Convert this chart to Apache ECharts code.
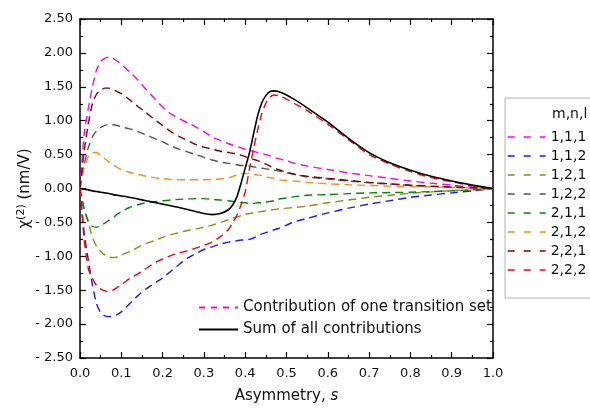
<!DOCTYPE html>
<html>
<head>
<meta charset="utf-8">
<script src="https://cdn.jsdelivr.net/npm/echarts@6/dist/echarts.min.js"></script>
<style>
  html, body { margin: 0; padding: 0; background: #fff; }
  #chart { width: 590px; height: 409px; }
</style>
</head>
<body>
<div id="chart"></div>
<script>
// asymmetry s (shared x grid for all curves)
const sGrid = [0, 0.01, 0.02, 0.03, 0.04, 0.05, 0.06, 0.07, 0.08, 0.09, 0.10, 0.12, 0.14, 0.16, 0.18, 0.20,
  0.22, 0.24, 0.26, 0.28, 0.30, 0.32, 0.34, 0.36, 0.37, 0.38, 0.39, 0.40, 0.41, 0.42, 0.43, 0.44, 0.45,
  0.46, 0.47, 0.48, 0.50, 0.52, 0.55, 0.60, 0.65, 0.70, 0.75, 0.80, 0.85, 0.90, 0.95, 1.00];

// chi(2) in nm/V, one array per transition set m,n,l
const chi111 = [0, 0.80, 1.18, 1.50, 1.75, 1.87, 1.92, 1.94, 1.92, 1.88, 1.83, 1.72, 1.60, 1.46, 1.33, 1.20,
  1.10, 1.03, 0.97, 0.91, 0.84, 0.76, 0.71, 0.66, 0.64, 0.62, 0.60, 0.58, 0.56, 0.55, 0.53, 0.52, 0.50,
  0.48, 0.46, 0.44, 0.41, 0.37, 0.33, 0.28, 0.23, 0.19, 0.15, 0.11, 0.08, 0.05, 0.02, 0];
const chi112 = [0, -0.65, -1.05, -1.42, -1.70, -1.83, -1.88, -1.89, -1.88, -1.86, -1.82, -1.70, -1.58, -1.48, -1.40, -1.32,
  -1.22, -1.12, -1.03, -0.96, -0.90, -0.86, -0.82, -0.79, -0.78, -0.77, -0.76, -0.76, -0.75, -0.73, -0.70, -0.67, -0.65,
  -0.63, -0.61, -0.59, -0.54, -0.49, -0.44, -0.36, -0.29, -0.23, -0.18, -0.13, -0.095, -0.065, -0.035, 0];
const chi121 = [0, -0.30, -0.50, -0.72, -0.85, -0.93, -0.98, -1.01, -1.02, -1.01, -0.98, -0.93, -0.87, -0.81, -0.77, -0.72,
  -0.68, -0.65, -0.62, -0.60, -0.57, -0.54, -0.50, -0.46, -0.44, -0.42, -0.40, -0.38, -0.37, -0.36, -0.35, -0.34, -0.33,
  -0.32, -0.31, -0.30, -0.29, -0.28, -0.26, -0.21, -0.17, -0.13, -0.10, -0.07, -0.05, -0.03, -0.02, 0];
const chi122 = [0, 0.35, 0.60, 0.76, 0.85, 0.90, 0.93, 0.94, 0.94, 0.93, 0.91, 0.88, 0.84, 0.79, 0.74, 0.69,
  0.63, 0.58, 0.54, 0.50, 0.46, 0.42, 0.39, 0.37, 0.36, 0.35, 0.34, 0.34, 0.33, 0.32, 0.31, 0.30, 0.29,
  0.28, 0.27, 0.26, 0.23, 0.21, 0.17, 0.14, 0.11, 0.085, 0.065, 0.045, 0.03, 0.02, 0.01, 0];
const chi211 = [0, -0.30, -0.48, -0.56, -0.57, -0.55, -0.51, -0.47, -0.43, -0.38, -0.34, -0.28, -0.24, -0.21, -0.195, -0.18,
  -0.17, -0.16, -0.155, -0.15, -0.15, -0.16, -0.17, -0.18, -0.19, -0.20, -0.21, -0.21, -0.22, -0.22, -0.21, -0.21, -0.20,
  -0.19, -0.18, -0.16, -0.14, -0.12, -0.10, -0.09, -0.075, -0.065, -0.06, -0.055, -0.045, -0.035, -0.02, 0];
const chi212 = [0, 0.30, 0.47, 0.53, 0.53, 0.49, 0.44, 0.39, 0.35, 0.31, 0.28, 0.24, 0.21, 0.18, 0.16, 0.145,
  0.135, 0.13, 0.13, 0.13, 0.13, 0.135, 0.14, 0.16, 0.18, 0.20, 0.22, 0.22, 0.22, 0.21, 0.20, 0.19, 0.17,
  0.16, 0.15, 0.13, 0.12, 0.11, 0.09, 0.07, 0.055, 0.045, 0.035, 0.03, 0.025, 0.015, 0.01, 0];
const chi221 = [0, 0.55, 0.95, 1.25, 1.39, 1.45, 1.48, 1.48, 1.46, 1.43, 1.40, 1.31, 1.21, 1.12, 1.02, 0.93,
  0.84, 0.77, 0.71, 0.65, 0.61, 0.58, 0.55, 0.53, 0.52, 0.51, 0.49, 0.47, 0.45, 0.43, 0.41, 0.39, 0.36,
  0.33, 0.30, 0.28, 0.24, 0.21, 0.18, 0.15, 0.12, 0.09, 0.07, 0.05, 0.035, 0.02, 0.01, 0];
const chi222 = [0, -0.75, -1.18, -1.33, -1.43, -1.48, -1.51, -1.52, -1.50, -1.46, -1.42, -1.33, -1.26, -1.18, -1.10, -1.04,
  -0.99, -0.95, -0.92, -0.88, -0.84, -0.79, -0.71, -0.60, -0.50, -0.39, -0.24, -0.05, 0.28, 0.58, 0.86, 1.10, 1.26,
  1.35, 1.38, 1.37, 1.32, 1.25, 1.15, 0.95, 0.72, 0.50, 0.36, 0.25, 0.16, 0.10, 0.04, 0];
const chiSum = [0, -0.01, -0.02, -0.035, -0.045, -0.055, -0.065, -0.075, -0.09, -0.10, -0.11, -0.13, -0.155, -0.18, -0.205, -0.23,
  -0.255, -0.28, -0.31, -0.34, -0.37, -0.385, -0.37, -0.31, -0.24, -0.12, 0.08, 0.30, 0.52, 0.80, 1.07, 1.26, 1.37,
  1.43, 1.44, 1.43, 1.38, 1.31, 1.19, 0.98, 0.74, 0.53, 0.38, 0.27, 0.18, 0.11, 0.05, 0];

const setNames = ["1,1,1", "1,1,2", "1,2,1", "1,2,2", "2,1,1", "2,1,2", "2,2,1", "2,2,2"];
const setValues = [chi111, chi112, chi121, chi122, chi211, chi212, chi221, chi222];
const setColors = ["#ff00ff", "#1a1aff", "#8c8c14", "#555555", "#008a00", "#ff8c1a", "#800000", "#ff0000"];
const xTicks = [0, 0.1, 0.2, 0.3, 0.4, 0.5, 0.6, 0.7, 0.8, 0.9, 1.0];
const yTicks = [-2.5, -2.0, -1.5, -1.0, -0.5, 0, 0.5, 1.0, 1.5, 2.0, 2.5];

const FONT = "DejaVu Sans";
const pairs = (vals) => sGrid.map((s, i) => [s, vals[i]]);

const frameLine = { onZero: false, lineStyle: { color: "#000", width: 1.5 } };
const tick = { inside: true, length: 6, lineStyle: { color: "#000", width: 1.2 } };
const minor = { show: true, splitNumber: 2, length: 3, lineStyle: { color: "#000", width: 1.2 } };

const chart = echarts.init(document.getElementById("chart"), null, { renderer: "canvas" });

const series = setNames.map((name, i) => ({
  name,
  type: "line",
  data: pairs(setValues[i]),
  showSymbol: false,
  symbol: "none",
  smooth: 0.2,
  color: setColors[i],
  lineStyle: { color: setColors[i], width: 1.4, type: [8, 5] },
  z: 2,
}));
series.push({
  name: "Contribution of one transition set",
  type: "line",
  data: [],
  symbol: "none",
  color: "#ff00ff",
  lineStyle: { color: "#ff00ff", width: 1.4, type: [6, 6] },
});
series.push({
  name: "Sum of all contributions",
  type: "line",
  data: pairs(chiSum),
  showSymbol: false,
  symbol: "none",
  smooth: 0.2,
  color: "#000",
  lineStyle: { color: "#000", width: 1.6 },
  z: 3,
});

chart.setOption({
  animation: false,
  backgroundColor: "#fff",
  grid: { left: 80, right: 97, top: 19, bottom: 51 },
  xAxis: [
    {
      type: "value", position: "bottom", min: xTicks[0], max: xTicks[xTicks.length - 1], interval: 0.1,
      axisLine: frameLine, axisTick: tick, minorTick: minor, splitLine: { show: false },
      axisLabel: { fontFamily: FONT, fontSize: 13, color: "#111", margin: 9, formatter: (v) => v.toFixed(1) },
      name: "{n|Asymmetry, }{i|s}", nameLocation: "middle", nameGap: 31,
      nameTextStyle: { rich: { n: { fontFamily: FONT, fontSize: 15, color: "#111" },
        i: { fontFamily: FONT, fontSize: 15, fontStyle: "italic", color: "#111" } } },
    },
    {
      type: "value", position: "top", min: xTicks[0], max: xTicks[xTicks.length - 1], interval: 0.1,
      axisLine: frameLine, axisTick: tick, minorTick: minor, splitLine: { show: false },
      axisLabel: { show: false },
    },
  ],
  yAxis: [
    {
      type: "value", position: "left", min: yTicks[0], max: yTicks[yTicks.length - 1], interval: 0.5,
      axisLine: frameLine, axisTick: tick, minorTick: minor, splitLine: { show: false },
      axisLabel: { fontFamily: FONT, fontSize: 13, color: "#111", margin: 7,
        formatter: (v) => (v < 0 ? "- " + Math.abs(v).toFixed(2) : v.toFixed(2)) },
      name: "{c|χ}{s|(2)}{c| (nm/V)}", nameLocation: "middle", nameGap: 46, nameRotate: 90,
      nameMoveOverlap: false,
      nameTextStyle: { rich: { c: { fontFamily: FONT, fontSize: 15, color: "#111" },
        s: { fontFamily: FONT, fontSize: 11, color: "#111", verticalAlign: "top", padding: [0, 0, 7, 0] } } },
    },
    {
      type: "value", position: "right", min: yTicks[0], max: yTicks[yTicks.length - 1], interval: 0.5,
      axisLine: frameLine, axisTick: tick, minorTick: minor, splitLine: { show: false },
      axisLabel: { show: false },
    },
  ],
  legend: [
    {
      data: setNames,
      orient: "vertical",
      left: 505, top: 98,
      padding: [32, 10, 21, 2],
      itemWidth: 38, itemHeight: 14, itemGap: 5,
      borderColor: "#b4b4b4", borderWidth: 1,
      itemStyle: { opacity: 0 },
      lineStyle: { type: [7, 9], width: 1.4 },
      textStyle: { fontFamily: FONT, fontSize: 14, color: "#111" },
    },
    {
      data: [
        { name: "Contribution of one transition set", lineStyle: { type: [6, 6] } },
        { name: "Sum of all contributions" },
      ],
      orient: "vertical",
      left: 198, top: 300,
      padding: 0,
      itemWidth: 39, itemHeight: 14, itemGap: 7,
      itemStyle: { opacity: 0 },
      textStyle: { fontFamily: FONT, fontSize: 15, color: "#111" },
    },
  ],
  graphic: [
    {
      type: "text", left: 552, top: 107,
      style: { text: "m,n,l", font: "14px " + FONT, fill: "#111" },
    },
  ],
  series,
});
</script>
</body>
</html>
